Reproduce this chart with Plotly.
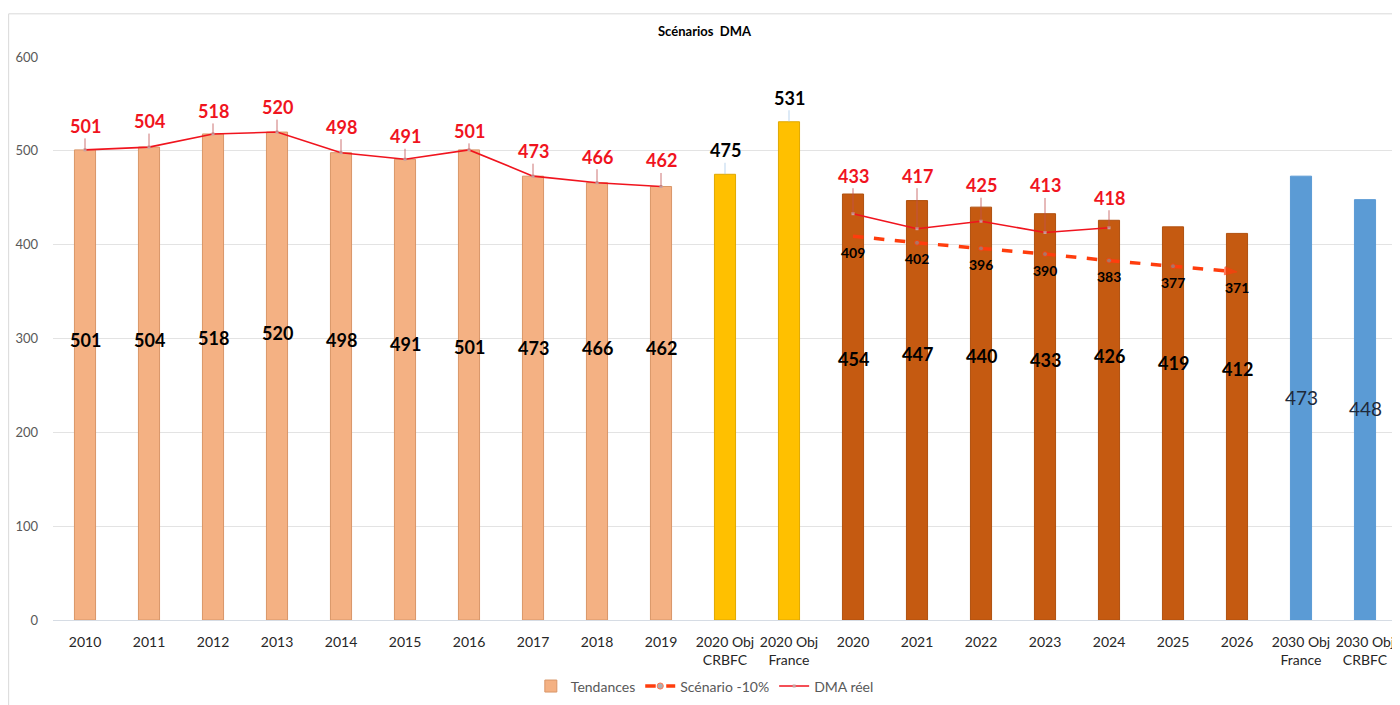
import plotly.graph_objs as go

categories = ['2010', '2011', '2012', '2013', '2014', '2015', '2016', '2017', '2018', '2019',
              '2020 Obj<br>CRBFC', '2020 Obj<br>France',
              '2020', '2021', '2022', '2023', '2024', '2025', '2026',
              '2030 Obj<br>France', '2030 Obj<br>CRBFC']
tendances = [501, 504, 518, 520, 498, 491, 501, 473, 466, 462,
             475, 531,
             454, 447, 440, 433, 426, 419, 412,
             473, 448]

# DMA réel: no value for the two 2020 objective columns
dma_years = categories[:17]
dma_reel = [501, 504, 518, 520, 498, 491, 501, 473, 466, 462,
            None, None,
            433, 417, 425, 413, 418]

scen_years = categories[12:19]
scenario = [409, 402, 396, 390, 383, 377, 371]

# styling / label placement (Excel moved the labels by hand)
bar_colors = ['#F4B183'] * 10 + ['#FFC000'] * 2 + ['#C55A11'] * 7 + ['#5B9BD5'] * 2
bar_lines = ['#D99668'] * 10 + ['#E0A800'] * 2 + ['#B0500F'] * 7 + ['#5B9BD5'] * 2
inside_label_y = [298, 298, 301, 306, 298, 294, 291, 290, 290, 290, None, None,
                  278, 283, 281, 277, 281, 274, 267, 237, 225]
dma_label_lift = [-24, -26, -23, -25, -26, -23, -19, -25, -26, -26, 0, 0,
                  -38, -53, -36, -47, -30]

FONT = "Lato, sans-serif"


def pos(cat):
    # annotations on a category axis need the category index
    return categories.index(cat)


fig = go.Figure()
fig.add_trace(go.Bar(
    x=categories, y=tendances, name='Tendances', width=0.33,
    marker=dict(color=bar_colors, line=dict(color=bar_lines, width=1)),
    hoverinfo='x+y'
))
fig.add_trace(go.Scatter(
    x=scen_years, y=scenario, name='Scénario -10%', mode='lines+markers',
    line=dict(color='#FF3D0D', width=3.5, dash='dash'),
    marker=dict(symbol=['circle'] * 6 + ['arrow'], size=[5] * 6 + [13],
                color=['#8C8C8C'] * 6 + ['#FF3D0D'], angleref='previous'),
))
fig.add_trace(go.Scatter(
    x=dma_years, y=dma_reel, name='DMA réel', mode='lines+markers', connectgaps=False,
    line=dict(color='#F0141E', width=1.6),
    marker=dict(symbol='square', size=3, color='#C9A0A0'),
))

annotations = []
# labels inside / above bars
for cat, val, ly in zip(categories, tendances, inside_label_y):
    if ly is None:
        annotations.append(dict(x=pos(cat), y=val, text=f'<b>{val}</b>', showarrow=True,
                                ax=0, ay=-24, arrowhead=0, arrowwidth=0.7, arrowcolor='#9DC3E6',
                                font=dict(size=18, color='#000000', family=FONT)))
    elif cat.startswith('2030'):
        annotations.append(dict(x=pos(cat), y=ly, text=str(val), showarrow=False,
                                font=dict(size=19, color='#1F2A3A', family=FONT)))
    else:
        annotations.append(dict(x=pos(cat), y=ly, text=f'<b>{val}</b>', showarrow=False,
                                font=dict(size=18, color='#000000', family=FONT)))
# DMA réel labels
for cat, val, lift in zip(dma_years, dma_reel, dma_label_lift):
    if val is None:
        continue
    annotations.append(dict(x=pos(cat), y=val, text=f'<b>{val}</b>', showarrow=True,
                            ax=0, ay=lift, arrowhead=0, arrowwidth=0.8, arrowcolor='#C05050',
                            font=dict(size=18, color='#F0141E', family=FONT)))
# scenario labels
for cat, val in zip(scen_years, scenario):
    annotations.append(dict(x=pos(cat), y=val, text=f'<b>{val}</b>', showarrow=False, yshift=-16,
                            font=dict(size=14, color='#000000', family=FONT)))
annotations.append(dict(xref='paper', yref='paper', x=0.485, y=1.047, yanchor='middle',
                        text='<b>Scénarios  DMA</b>', showarrow=False,
                        font=dict(size=13, color='#000000', family=FONT)))

fig.update_layout(
    width=1392, height=697,
    margin=dict(l=45, r=3, t=49, b=74),
    plot_bgcolor='white', paper_bgcolor='white',
    font=dict(family=FONT, size=13, color='#404040'),
    showlegend=True,
    legend=dict(orientation='h', x=0.485, xanchor='center', y=-0.118, yanchor='middle',
                font=dict(size=14, color='#595959'), itemwidth=30, traceorder='normal'),
    xaxis=dict(type='category', range=[-0.5, len(categories) - 0.5], showgrid=False,
               tickfont=dict(size=14, color='#262626'), showline=False, ticks='',
               ticklabelstandoff=12, automargin=False),
    yaxis=dict(range=[0, 600], dtick=100, gridcolor='#E3E3E3', zeroline=True,
               zerolinecolor='#D6DCE4', zerolinewidth=1, automargin=False,
               tickfont=dict(size=13, color='#595959'), ticks='', ticklabelstandoff=14),
    annotations=annotations,
    shapes=[dict(type='rect', xref='paper', yref='paper', x0=-0.033, x1=1.2,
                 y0=-0.5, y1=1.0767, line=dict(color='#D9D9D9', width=1))],
)

fig.write_html("out.html")
